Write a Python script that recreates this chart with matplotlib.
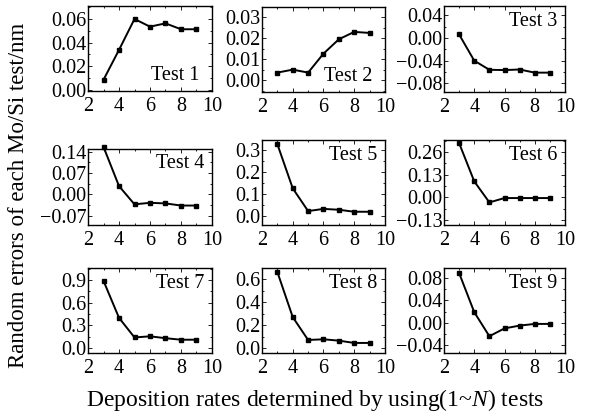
import matplotlib
matplotlib.use("Agg")
import matplotlib.pyplot as plt
from matplotlib.ticker import MultipleLocator

plt.rcParams['font.family'] = ['Liberation Serif', 'DejaVu Serif']
plt.rcParams['axes.unicode_minus'] = True
plt.rcParams['mathtext.fontset'] = 'custom'
plt.rcParams['mathtext.rm'] = 'Liberation Serif'
plt.rcParams['mathtext.it'] = 'Liberation Serif:italic'

x = [3, 4, 5, 6, 7, 8, 9]
test1 = [0.0085, 0.0338, 0.0600, 0.0535, 0.0563, 0.0513, 0.0513]
test2 = [0.0037, 0.0051, 0.0037, 0.0127, 0.0195, 0.0230, 0.0225]
test3 = [0.006, -0.040, -0.056, -0.0565, -0.0555, -0.061, -0.061]
test4 = [0.156, 0.027, -0.033, -0.028, -0.030, -0.037, -0.037]
test5 = [0.326, 0.126, 0.023, 0.033, 0.029, 0.020, 0.020]
test6 = [0.312, 0.092, -0.029, -0.004, -0.004, -0.004, -0.004]
test7 = [0.89, 0.40, 0.14, 0.155, 0.13, 0.11, 0.11]
test8 = [0.665, 0.27, 0.07, 0.076, 0.064, 0.044, 0.044]
test9 = [0.089, 0.019, -0.024, -0.010, -0.005, -0.002, -0.002]

series = [test1, test2, test3, test4, test5, test6, test7, test8, test9]
labels = ["Test 1", "Test 2", "Test 3", "Test 4", "Test 5", "Test 6", "Test 7", "Test 8", "Test 9"]
yticks = [
    [0.00, 0.02, 0.04, 0.06],
    [0.00, 0.01, 0.02, 0.03],
    [-0.08, -0.04, 0.00, 0.04],
    [-0.07, 0.00, 0.07, 0.14],
    [0.0, 0.1, 0.2, 0.3],
    [-0.13, 0.00, 0.13, 0.26],
    [0.0, 0.3, 0.6, 0.9],
    [0.0, 0.2, 0.4, 0.6],
    [-0.04, 0.00, 0.04, 0.08],
]
ytick_fmt = ["%.2f", "%.2f", "%.2f", "%.2f", "%.1f", "%.2f", "%.1f", "%.1f", "%.2f"]
ylims = [
    (-0.001, 0.071),
    (-0.0055, 0.0348),
    (-0.095, 0.056),
    (-0.101, 0.149),
    (-0.04, 0.345),
    (-0.159, 0.33),
    (-0.066, 1.06),
    (-0.044, 0.70),
    (-0.054, 0.098),
]
xticks = [2, 4, 6, 8, 10]

W, H = 589, 417
# pixel boxes: left, top, right, bottom
boxes = [
    (88, 6, 212, 91), (262, 7, 385, 92), (444, 6, 565, 92),
    (88, 149, 212, 225), (262, 140, 385, 225), (444, 140, 565, 225),
    (88, 268, 212, 353), (262, 268, 385, 353), (444, 268, 565, 353),
]
text_pos = ['lr', 'lr', 'ur', 'ur', 'ur', 'ur', 'ur', 'ur', 'ur']

fig = plt.figure(figsize=(W / 100, H / 100), dpi=100)

for i in range(9):
    l, t, r, b = boxes[i]
    ax = fig.add_axes([l / W, 1 - b / H, (r - l) / W, (b - t) / H])
    ax.plot(x, series[i], color='black', lw=1.4, marker='s', ms=3, clip_on=False)
    ax.set_xlim(2, 10)
    ax.set_ylim(*ylims[i])
    ax.set_xticks(xticks)
    ax.xaxis.set_minor_locator(MultipleLocator(1))
    ax.set_yticks(yticks[i])
    ax.set_yticklabels([(ytick_fmt[i] % v).replace('-', '\u2212') for v in yticks[i]])
    st = (yticks[i][1] - yticks[i][0]) / 2
    ax.yaxis.set_minor_locator(MultipleLocator(st))
    ax.tick_params(which='both', direction='in', top=True, right=True, labelsize=14.5)
    ax.tick_params(axis='y', pad=1)
    ax.tick_params(axis='x', pad=4)
    ax.tick_params(which='major', length=3, width=0.6)
    ax.tick_params(which='minor', length=1.5, width=0.6)
    for s in ax.spines.values():
        s.set_linewidth(1.0)
    if text_pos[i] == 'lr':
        ax.text(0.9, 0.07, labels[i], transform=ax.transAxes, ha='right', va='bottom', fontsize=14.5)
    else:
        ax.text(0.94, 0.93, labels[i], transform=ax.transAxes, ha='right', va='top', fontsize=14.5)

fig.text(19 / W, 1 - 195 / H, "Random errors of each Mo/Si test/nm", rotation=90,
         ha='center', va='center', fontsize=16.5)
fig.text(315 / W, 1 - 400 / H, r"Deposition rates determined by using(1~$\it{N}$) tests",
         ha='center', va='center', fontsize=17)

fig.savefig("out.png", dpi=100)
